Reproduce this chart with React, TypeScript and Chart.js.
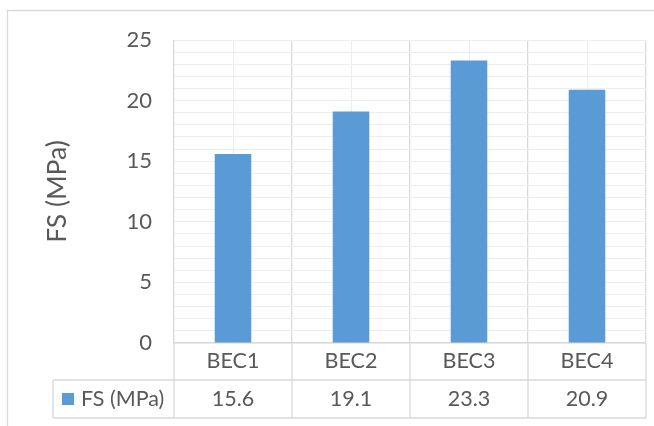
import React, { useEffect, useRef } from "react";
import { Chart, registerables } from "chart.js";

Chart.register(...registerables);

// Flexural strength per mix
const categories = ["BEC1", "BEC2", "BEC3", "BEC4"];
const fsValues = [15.6, 19.1, 23.3, 20.9];
const seriesName = "FS (MPa)";
const axisTitle = "FS (MPa)";
const yMax = 25;
const yMajorStep = 5;

const BAR_COLOR = "#5B9BD5";
const TEXT_COLOR = "#595959";
const LINE_COLOR = "#d9d9d9";
const MINOR_COLOR = "#ededed";
const FONT = "Lato, 'Open Sans', sans-serif";
const TABLE_FONT_SIZE = 21.5;

// Data table under the plot, legend key cell and outer frame
const tablePlugin = {
  id: "dataTable",
  beforeDatasetsDraw(chart: any) {
    const { ctx, chartArea, scales } = chart;
    const x = scales.x;
    ctx.save();
    ctx.strokeStyle = MINOR_COLOR;
    ctx.lineWidth = 1;
    categories.forEach((_, i) => {
      const px = Math.round(x.getPixelForValue(i)) + 0.5;
      ctx.beginPath();
      ctx.moveTo(px, chartArea.top);
      ctx.lineTo(px, chartArea.bottom);
      ctx.stroke();
    });
    ctx.restore();
  },
  afterDraw(chart: any) {
    const { ctx, chartArea, scales, width, height } = chart;
    const x = scales.x;
    const rowTop = chartArea.bottom;
    const rowMid = rowTop + 37;
    const rowBottom = rowTop + 75;
    const keyLeft = 53;
    ctx.save();
    ctx.strokeStyle = LINE_COLOR;
    ctx.lineWidth = 1.3;

    // outer chart frame
    ctx.beginPath();
    ctx.moveTo(7.5, height);
    ctx.lineTo(7.5, 10.5);
    ctx.lineTo(width, 10.5);
    ctx.stroke();

    // vertical separators continued through the table
    const half = (x.getPixelForValue(1) - x.getPixelForValue(0)) / 2;
    for (let i = 0; i <= categories.length; i++) {
      const px = x.getPixelForValue(i) - half;
      ctx.beginPath();
      ctx.moveTo(px, rowTop);
      ctx.lineTo(px, rowBottom);
      ctx.stroke();
    }
    // horizontal rules and key cell
    ctx.beginPath();
    ctx.moveTo(keyLeft, rowMid);
    ctx.lineTo(chartArea.right, rowMid);
    ctx.moveTo(keyLeft, rowBottom);
    ctx.lineTo(chartArea.right, rowBottom);
    ctx.moveTo(keyLeft, rowMid);
    ctx.lineTo(keyLeft, rowBottom);
    ctx.stroke();

    const cy = (rowMid + rowBottom) / 2;
    ctx.fillStyle = BAR_COLOR;
    ctx.fillRect(62, cy - 6, 12, 12);

    ctx.fillStyle = TEXT_COLOR;
    ctx.font = `${TABLE_FONT_SIZE}px ${FONT}`;
    ctx.textBaseline = "middle";
    ctx.textAlign = "left";
    ctx.fillText(seriesName, 81, cy);

    ctx.textAlign = "center";
    fsValues.forEach((v, i) => {
      ctx.fillText(v.toFixed(1), x.getPixelForValue(i), cy);
    });
    ctx.restore();
  },
};

export default function App() {
  const canvasRef = useRef<HTMLCanvasElement | null>(null);

  useEffect(() => {
    document.body.style.margin = "0";
    const canvas = canvasRef.current;
    if (!canvas) return;
    const chart = new Chart(canvas, {
      type: "bar",
      data: {
        labels: categories,
        datasets: [
          {
            label: seriesName,
            data: fsValues,
            backgroundColor: BAR_COLOR,
            borderWidth: 0,
            categoryPercentage: 1,
            barPercentage: 0.31,
          },
        ],
      },
      options: {
        responsive: false,
        devicePixelRatio: 1,
        animation: false,
        layout: { padding: { top: 40, right: 8, left: 0, bottom: 0 } },
        plugins: {
          legend: { display: false },
          tooltip: { enabled: false },
        },
        scales: {
          x: {
            type: "category",
            offset: true,
            grid: { offset: true, color: LINE_COLOR, lineWidth: 1.3, drawTicks: false },
            border: { display: true, color: LINE_COLOR, width: 1.3 },
            ticks: { color: TEXT_COLOR, font: { family: FONT, size: TABLE_FONT_SIZE }, padding: 5 },
            afterFit: (s: any) => {
              s.height = 83;
            },
          },
          y: {
            min: 0,
            max: yMax,
            grid: { color: MINOR_COLOR, lineWidth: 1, drawTicks: false },
            border: { display: false },
            ticks: {
              stepSize: 1,
              autoSkip: false,
              color: TEXT_COLOR,
              font: { family: FONT, size: 22 },
              padding: 22,
              callback: (v: any) => (Number(v) % yMajorStep === 0 ? String(v) : ""),
            },
            title: {
              display: true,
              text: axisTitle,
              color: TEXT_COLOR,
              font: { family: FONT, size: 26.5 },
              padding: { top: 42, bottom: 0 },
            },
            afterFit: (s: any) => {
              s.width = 174;
            },
          },
        },
      },
      plugins: [tablePlugin],
    });
    return () => chart.destroy();
  }, []);

  return (
    <div style={{ position: "absolute", left: 0, top: 0, width: 654, height: 426, background: "#fff" }}>
      <canvas ref={canvasRef} width={654} height={426} />
    </div>
  );
}
